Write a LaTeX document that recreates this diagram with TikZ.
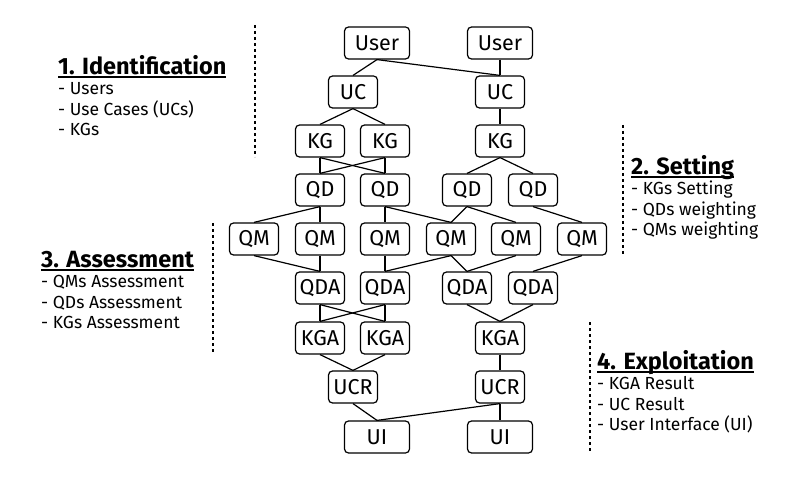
\documentclass[tikz,border=0pt]{standalone}
\usepackage{fontspec}
\setmainfont{Fira Sans}

\tikzset{
  box/.style={draw, rounded corners=4pt, line width=1.2pt, minimum width=49pt,
    minimum height=32pt, inner sep=0pt, font=\fontsize{21.5}{22}\selectfont},
  wide/.style={box, minimum width=65pt},
  link/.style={line width=1.2pt},
  sep/.style={line width=1.3pt, dash pattern=on 3pt off 3pt},
  phase/.style={anchor=north west, align=left, inner sep=0pt,
    font=\fontsize{17.5}{20.5}\selectfont},
}
\newcommand{\phasetitle}[1]{\setbox0\hbox{\fontsize{23.5}{20.5}\selectfont\bfseries #1}%
  \rlap{\rule[-3.5pt]{\wd0}{1.7pt}}\box0}

\begin{document}
\begin{tikzpicture}[x=1pt,y=-1pt]

        \useasboundingbox (0,0) rectangle (800,478);

        % nodes
        \node[wide] (user1) at (377,43) {User};
        \node[wide] (user2) at (500,43) {User};

        \node[box] (uc1) at (353,92) {UC};
        \node[box] (uc2) at (500,92) {UC};

        \node[box] (kg1) at (320,141) {KG};
        \node[box] (kg2) at (385,141) {KG};
        \node[box] (kg3) at (500,141) {KG};

        \node[box] (qd1) at (320,190) {QD};
        \node[box] (qd2) at (385,190) {QD};
        \node[box] (qd3) at (467,190) {QD};
        \node[box] (qd4) at (533,190) {QD};

        \node[box] (qm1) at (254,239) {QM};
        \node[box] (qm2) at (320,239) {QM};
        \node[box] (qm3) at (385,239) {QM};
        \node[box] (qm4) at (451,239) {QM};
        \node[box] (qm5) at (516,239) {QM};
        \node[box] (qm6) at (582,239) {QM};

        \node[box] (qda1) at (320,288) {QDA};
        \node[box] (qda2) at (385,288) {QDA};
        \node[box] (qda3) at (467,288) {QDA};
        \node[box] (qda4) at (533,288) {QDA};

        \node[box] (kga1) at (320,338) {KGA};
        \node[box] (kga2) at (385,338) {KGA};
        \node[box] (kga3) at (500,338) {KGA};

        \node[box] (ucr1) at (353,387) {UCR};
        \node[box] (ucr2) at (500,387) {UCR};

        \node[wide] (ui1) at (377,437) {UI};
        \node[wide] (ui2) at (500,437) {UI};

        % links
        \draw[link] (user1.south) -- (uc1.north);
        \draw[link] (user1.south) -- (uc2.north);
        \draw[link] (user2.south) -- (uc2.north);

        \draw[link] (uc1.south) -- (kg1.north);
        \draw[link] (uc1.south) -- (kg2.north);
        \draw[link] (uc2.south) -- (kg3.north);

        \draw[link] (kg1.south) -- (qd1.north);
        \draw[link] (kg1.south) -- (qd2.north);
        \draw[link] (kg2.south) -- (qd1.north);
        \draw[link] (kg2.south) -- (qd2.north);
        \draw[link] (kg3.south) -- (qd3.north);
        \draw[link] (kg3.south) -- (qd4.north);

        \draw[link] (qd1.south) -- (qm1.north);
        \draw[link] (qd1.south) -- (qm2.north);
        \draw[link] (qd2.south) -- (qm3.north);
        \draw[link] (qd2.south) -- (qm4.north);
        \draw[link] (qd3.south) -- (qm4.north);
        \draw[link] (qd3.south) -- (qm5.north);
        \draw[link] (qd4.south) -- (qm6.north);

        \draw[link] (qm1.south) -- (qda1.north);
        \draw[link] (qm2.south) -- (qda1.north);
        \draw[link] (qm3.south) -- (qda2.north);
        \draw[link] (qm4.south) -- (qda2.north);
        \draw[link] (qm4.south) -- (qda3.north);
        \draw[link] (qm5.south) -- (qda3.north);
        \draw[link] (qm6.south) -- (qda4.north);

        \draw[link] (qda1.south) -- (kga1.north);
        \draw[link] (qda1.south) -- (kga2.north);
        \draw[link] (qda2.south) -- (kga1.north);
        \draw[link] (qda2.south) -- (kga2.north);
        \draw[link] (qda3.south) -- (kga3.north);
        \draw[link] (qda4.south) -- (kga3.north);

        \draw[link] (kga1.south) -- (ucr1.north);
        \draw[link] (kga2.south) -- (ucr1.north);
        \draw[link] (kga3.south) -- (ucr2.north);

        \draw[link] (ucr1.south) -- (ui1.north);
        \draw[link] (ucr2.south) -- (ui1.north);
        \draw[link] (ucr2.south) -- (ui2.north);

        % phases
        \node[phase] (ident) at (58,55) {\phasetitle{1. Identification}\\- Users\\- Use Cases (UCs)\\- KGs};
        \node[phase] (setting) at (631,155) {\phasetitle{2. Setting}\\- KGs Setting\\- QDs weighting\\- QMs weighting};
        \node[phase] (assess) at (41,251) {\phasetitle{3. Assessment}\\- QMs Assessment\\- QDs Assessment\\- KGs Assessment};
        \node[phase] (exploit) at (597,350) {\phasetitle{4. Exploitation}\\- KGA Result\\- UC Result\\- User Interface (UI)};

        \draw[sep] (255,25) -- (255,157);
        \draw[sep] (623,125) -- (623,255);
        \draw[sep] (213,223) -- (213,353);
        \draw[sep] (590,322) -- (590,452);

        \end{tikzpicture}
\end{document}
